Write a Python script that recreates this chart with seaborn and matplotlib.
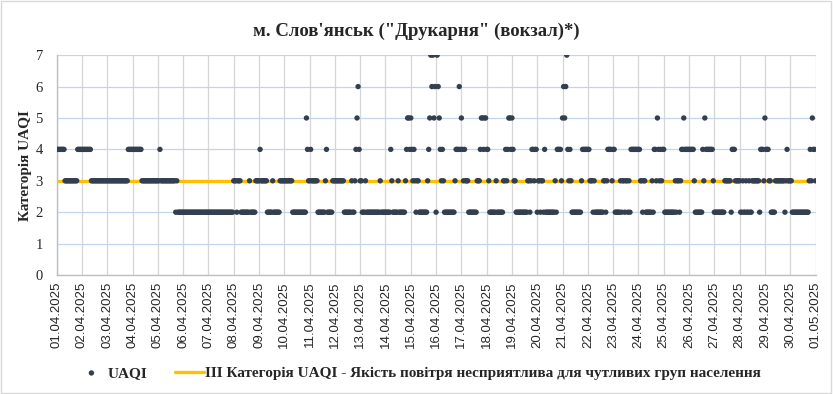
import pandas as pd
import matplotlib
matplotlib.use('Agg')
import matplotlib.pyplot as plt
import matplotlib.dates as mdates
from matplotlib.patches import Rectangle
import seaborn as sns

# hourly UAQI category, one string of 24 hours per day, 01.04 - 30.04
uaqi_days = [
    "444444443333333333334444",
    "444444444333333333333333",
    "333333333333333333334444",
    "444444444333333333333333",
    "334333333333333332322222",
    "222222222222222222222222",
    "222222222222222222222222",
    "333233322222222322222333",
    "343333332222232222223333",
    "333333332222222222222543",
    "343333332222222342222233",
    "333333333222222232234564",
    "332223222222222222232222",
    "222224322222322222234554",
    "543432332222222234576756",
    "276543432222222222344464",
    "543433322222222333455455",
    "443222222322222233434554",
    "543322222222222332344344",
    "233233242222222223244443",
    "565674343222222222344444",
    "443332322222222332344443",
    "442222232332332324444444",
    "443323322222232443543434",
    "422222222223233234454444",
    "444443222222243544444443",
    "222222222233333324443333",
    "322322322322333333324443",
    "544433222233333333323433",
    "332222222222222222343544",
]
uaqi_last = 3  # 01.05.2025 00:00
threshold = 3

title = "м. Слов'янськ (\"Друкарня\" (вокзал)*)"
ylabel = "Категорія UAQI"
line_label = "III Категорія UAQI - Якість повітря несприятлива для чутливих груп населення"

values = [int(c) for day in uaqi_days for c in day] + [uaqi_last]
times = pd.date_range("2025-04-01 00:00", periods=len(values), freq="h")
df = pd.DataFrame({"time": times, "UAQI": values, "limit": threshold})

sns.set_style("white")
plt.rcParams['font.family'] = ['Liberation Serif', 'DejaVu Serif']

fig = plt.figure(figsize=(8.33, 3.94), dpi=100)
ax = fig.add_axes([0.068, 0.302, 0.911, 0.558])

sns.lineplot(data=df, x="time", y="limit", ax=ax, color="#ffc000",
             linewidth=2.4, label=line_label, zorder=2)
sns.scatterplot(data=df, x="time", y="UAQI", ax=ax, color="#333f50",
                s=15, edgecolor="none", label="UAQI", zorder=3)

ax.set_xlim(times[0], times[-1])
ax.set_ylim(0, 7)
ax.set_yticks(range(0, 8))
ax.xaxis.set_major_locator(mdates.DayLocator())
ax.xaxis.set_major_formatter(mdates.DateFormatter("%d.%m.%Y"))
for lab in ax.get_xticklabels():
    lab.set_rotation(90)
    lab.set_family(['Liberation Sans', 'DejaVu Sans'])
    lab.set_fontsize(9.5)
for lab in ax.get_yticklabels():
    lab.set_fontsize(10.5)
ax.tick_params(axis='x', length=0, pad=5)
ax.tick_params(axis='y', length=0, pad=10)

ax.yaxis.grid(True, color="#c5d3ec", linewidth=0.9)
ax.xaxis.grid(True, color="#d6d6d6", linewidth=0.9)
ax.set_axisbelow(True)
for side in ["top", "right"]:
    ax.spines[side].set_visible(False)
for side in ["left", "bottom"]:
    ax.spines[side].set_color("#bfbfbf")
    ax.spines[side].set_linewidth(1)

ax.set_xlabel("")
ax.set_ylabel(ylabel, fontsize=11, fontweight="bold", labelpad=2.5)
fig.suptitle(title, x=0.5, y=0.942, fontsize=13.5, fontweight="bold")

handles, labels = ax.get_legend_handles_labels()
order = [labels.index("UAQI"), labels.index(line_label)]
ax.legend([handles[i] for i in order], [labels[i] for i in order],
          loc="center", bbox_to_anchor=(0.503, 0.053), bbox_transform=fig.transFigure,
          ncol=2, frameon=False, handlelength=1.9, columnspacing=1.8, handletextpad=0.1,
          prop={'weight': 'bold', 'size': 11})

fig.patches.append(Rectangle((0.001, 0.002), 0.997, 0.995, transform=fig.transFigure,
                             fill=False, edgecolor="#d9d9d9", linewidth=1))

fig.savefig("out.png", dpi=100)
plt.close(fig)
